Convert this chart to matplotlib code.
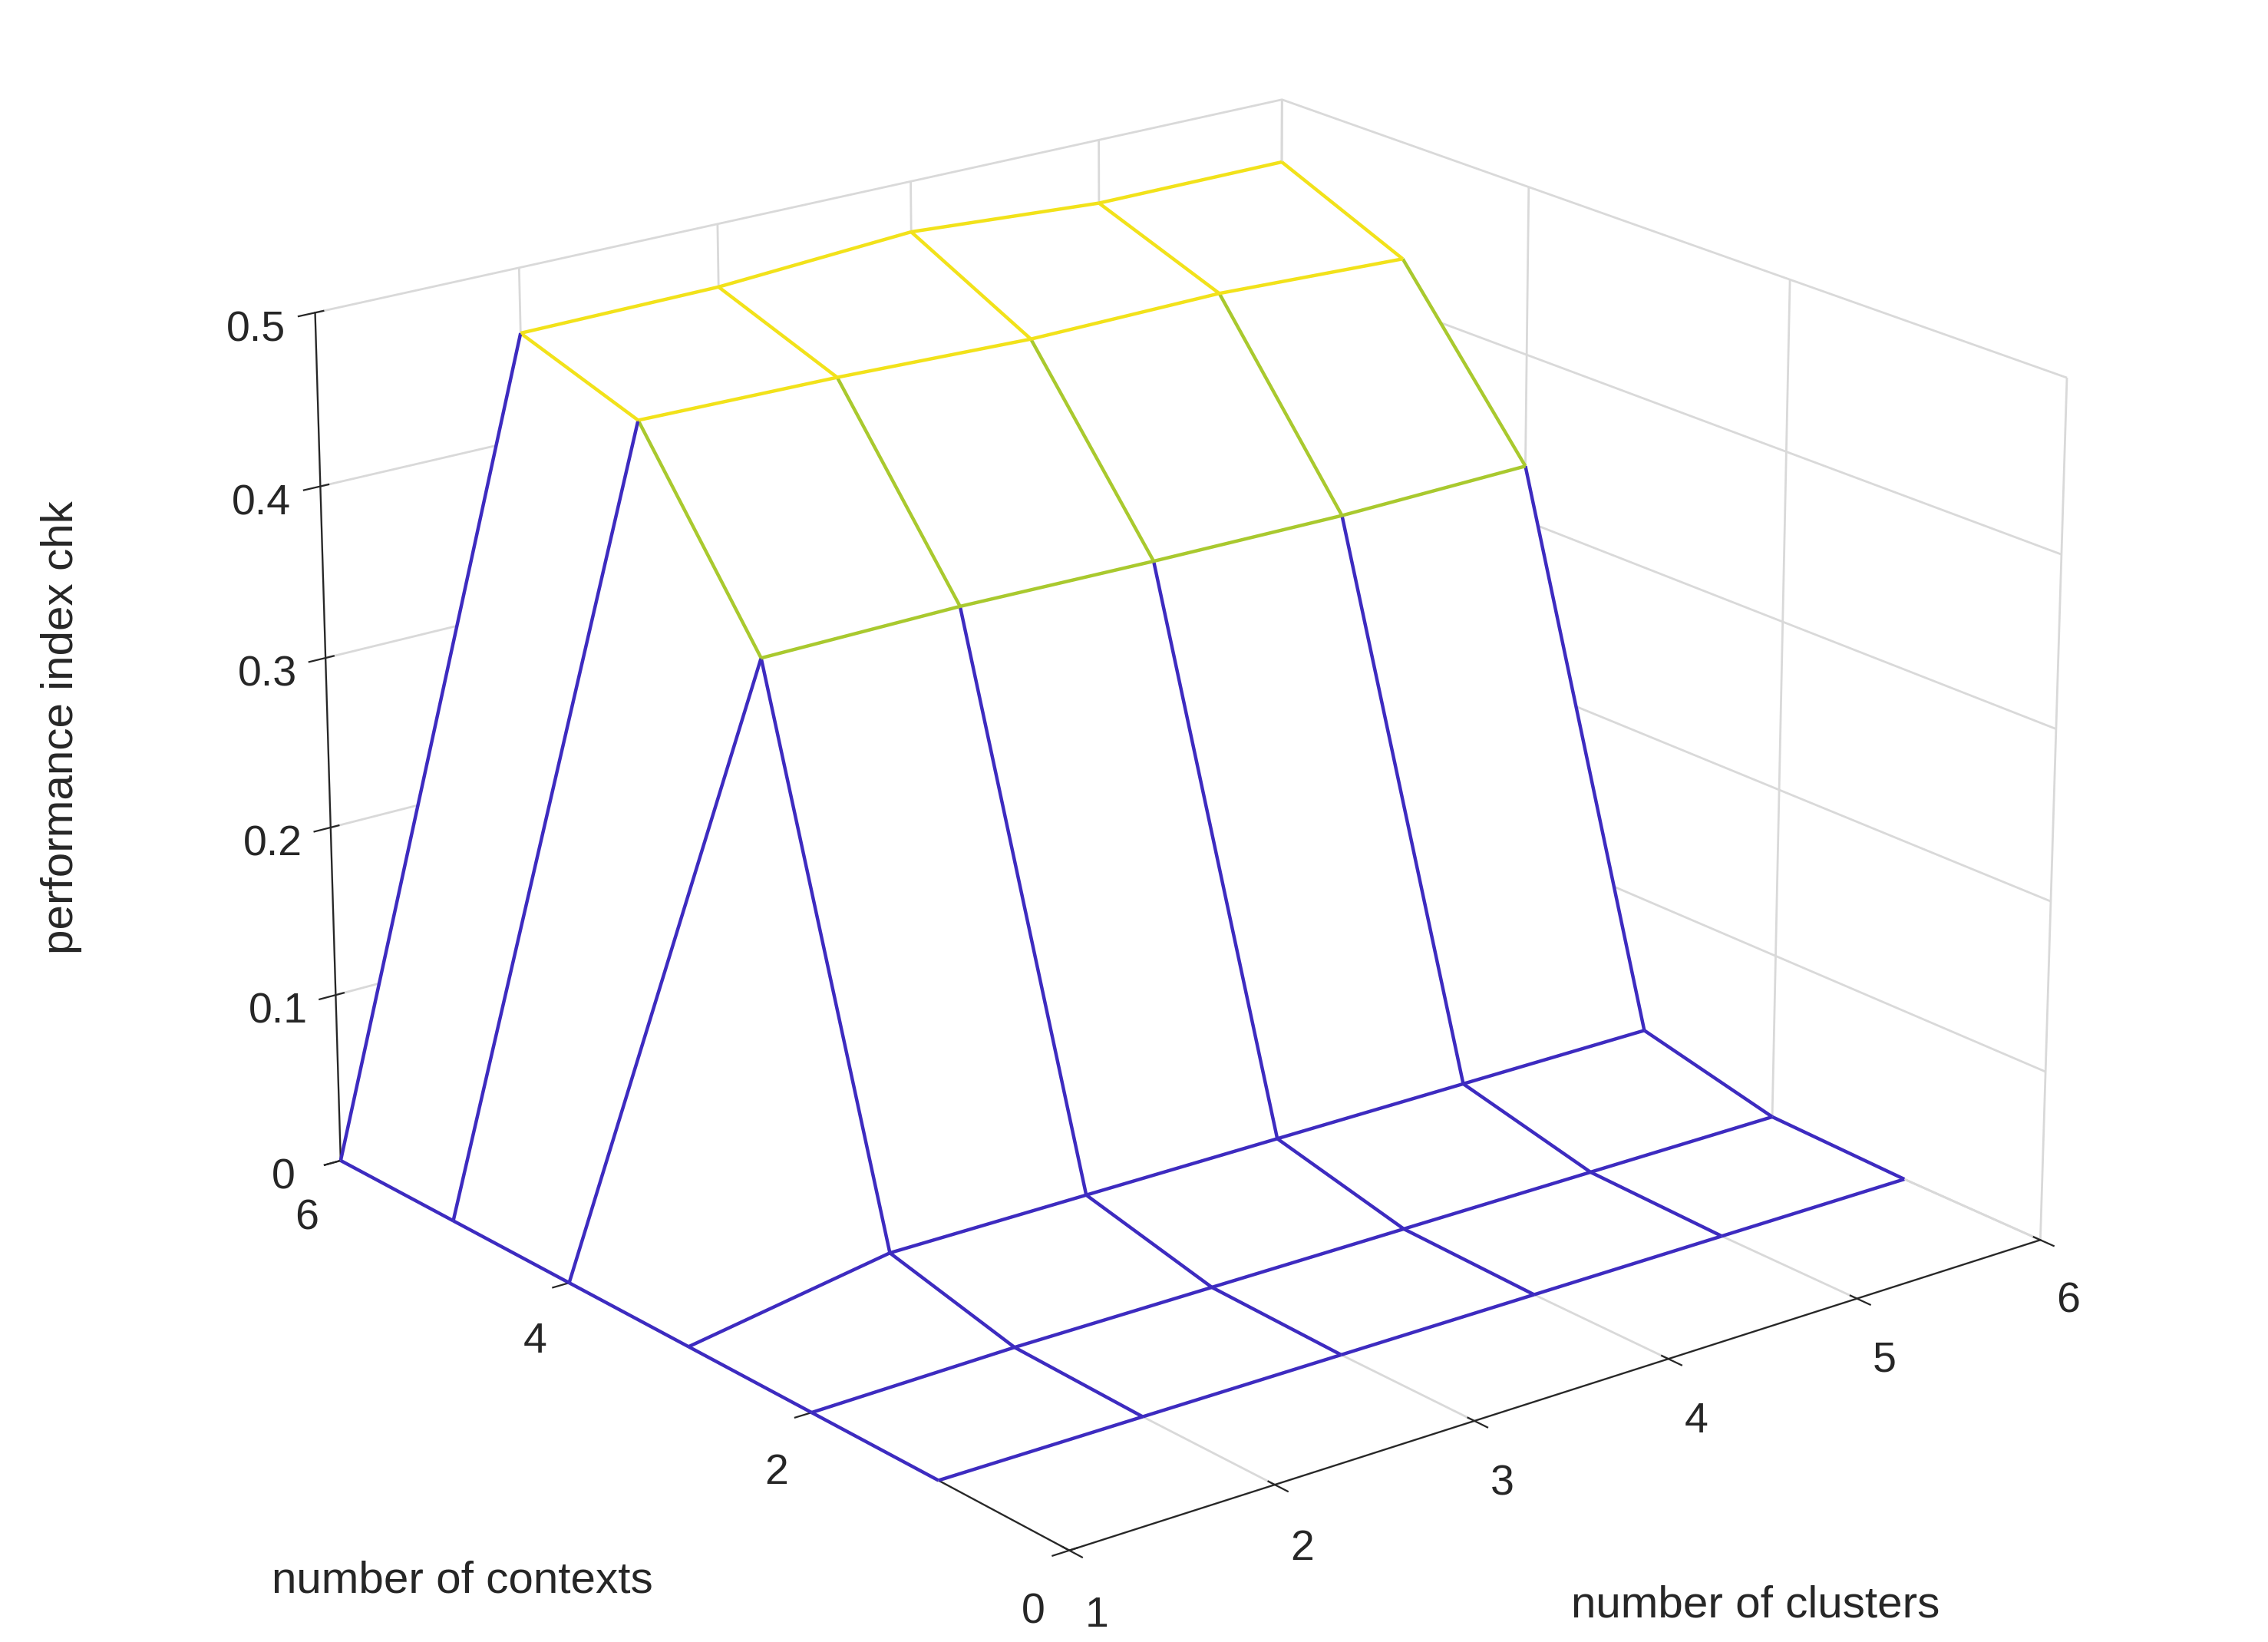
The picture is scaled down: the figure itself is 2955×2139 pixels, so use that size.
import numpy as np
import matplotlib
matplotlib.use("Agg")
import matplotlib.pyplot as plt
from mpl_toolkits.mplot3d.art3d import Line3DCollection

plt.rcParams['font.family'] = ['Liberation Sans', 'DejaVu Sans']

clusters = [1, 2, 3, 4, 5, 6]
contexts = [1, 2, 3, 4, 5, 6]
# rows: contexts 1..6, cols: clusters 1..6
perf = [
    [0.0, 0.0, 0.0, 0.0, 0.0, 0.0],
    [0.0, 0.002, 0.002, 0.002, 0.002, 0.002],
    [0.0, 0.02, 0.02, 0.02, 0.02, 0.02],
    [0.0, 0.333, 0.334, 0.332, 0.331, 0.333],
    [0.0, 0.44, 0.438, 0.434, 0.435, 0.43],
    [0.0, 0.462, 0.463, 0.47, 0.462, 0.462],
]

X, Y = np.meshgrid(clusters, contexts)
Z = np.array(perf)

def col(v):
    if v < 0.1:
        return '#3d2bc0'
    if v < 0.4:
        return '#a9c92e'
    return '#f2e21a'

fig = plt.figure(figsize=(14.775, 10.695), dpi=200)
ax = fig.add_axes([-0.06, -0.07, 1.14, 1.16], projection='3d')
ax.view_init(elev=20, azim=-128)
ax.set_box_aspect((1, 1, 0.74), zoom=1.0)

ax.plot_surface(X, Y, Z, color='white', linewidth=0, shade=False, antialiased=False)

segs, cols = [], []
nr, nc = Z.shape
for i in range(nr):
    for j in range(nc):
        if j + 1 < nc:
            segs.append([(X[i, j], Y[i, j], Z[i, j]), (X[i, j+1], Y[i, j+1], Z[i, j+1])])
            cols.append(col(min(Z[i, j], Z[i, j+1])))
        if i + 1 < nr:
            segs.append([(X[i, j], Y[i, j], Z[i, j]), (X[i+1, j], Y[i+1, j], Z[i+1, j])])
            cols.append(col(min(Z[i, j], Z[i+1, j])))
lc = Line3DCollection(segs, colors=cols, linewidths=1.6)
ax.add_collection3d(lc)

ax.set_xlim(1, 6)
ax.set_ylim(0, 6)
ax.set_zlim(0, 0.5)
ax.set_xticks([1, 2, 3, 4, 5, 6])
ax.set_yticks([0, 2, 4, 6])
ax.set_zticks([0, 0.1, 0.2, 0.3, 0.4, 0.5])
ax.set_zticklabels(['0', '0.1', '0.2', '0.3', '0.4', '0.5'])

for a in (ax.xaxis, ax.yaxis, ax.zaxis):
    a.set_pane_color((1, 1, 1, 1))
    a._axinfo['grid']['color'] = (0.85, 0.85, 0.85, 1)
    a._axinfo['grid']['linewidth'] = 1.0
    a.line.set_color('#262626')
    a.set_tick_params(labelsize=20, colors='#262626', pad=8)

fig.text(0.204, 0.037, 'number of contexts', fontsize=21, color='#262626', ha='center', va='center')
fig.text(0.774, 0.022, 'number of clusters', fontsize=21, color='#262626', ha='center', va='center')
fig.text(0.027, 0.557, 'performance index chk', fontsize=21, color='#262626', ha='center', va='center', rotation=90)

fig.savefig('out.png', dpi=200)
